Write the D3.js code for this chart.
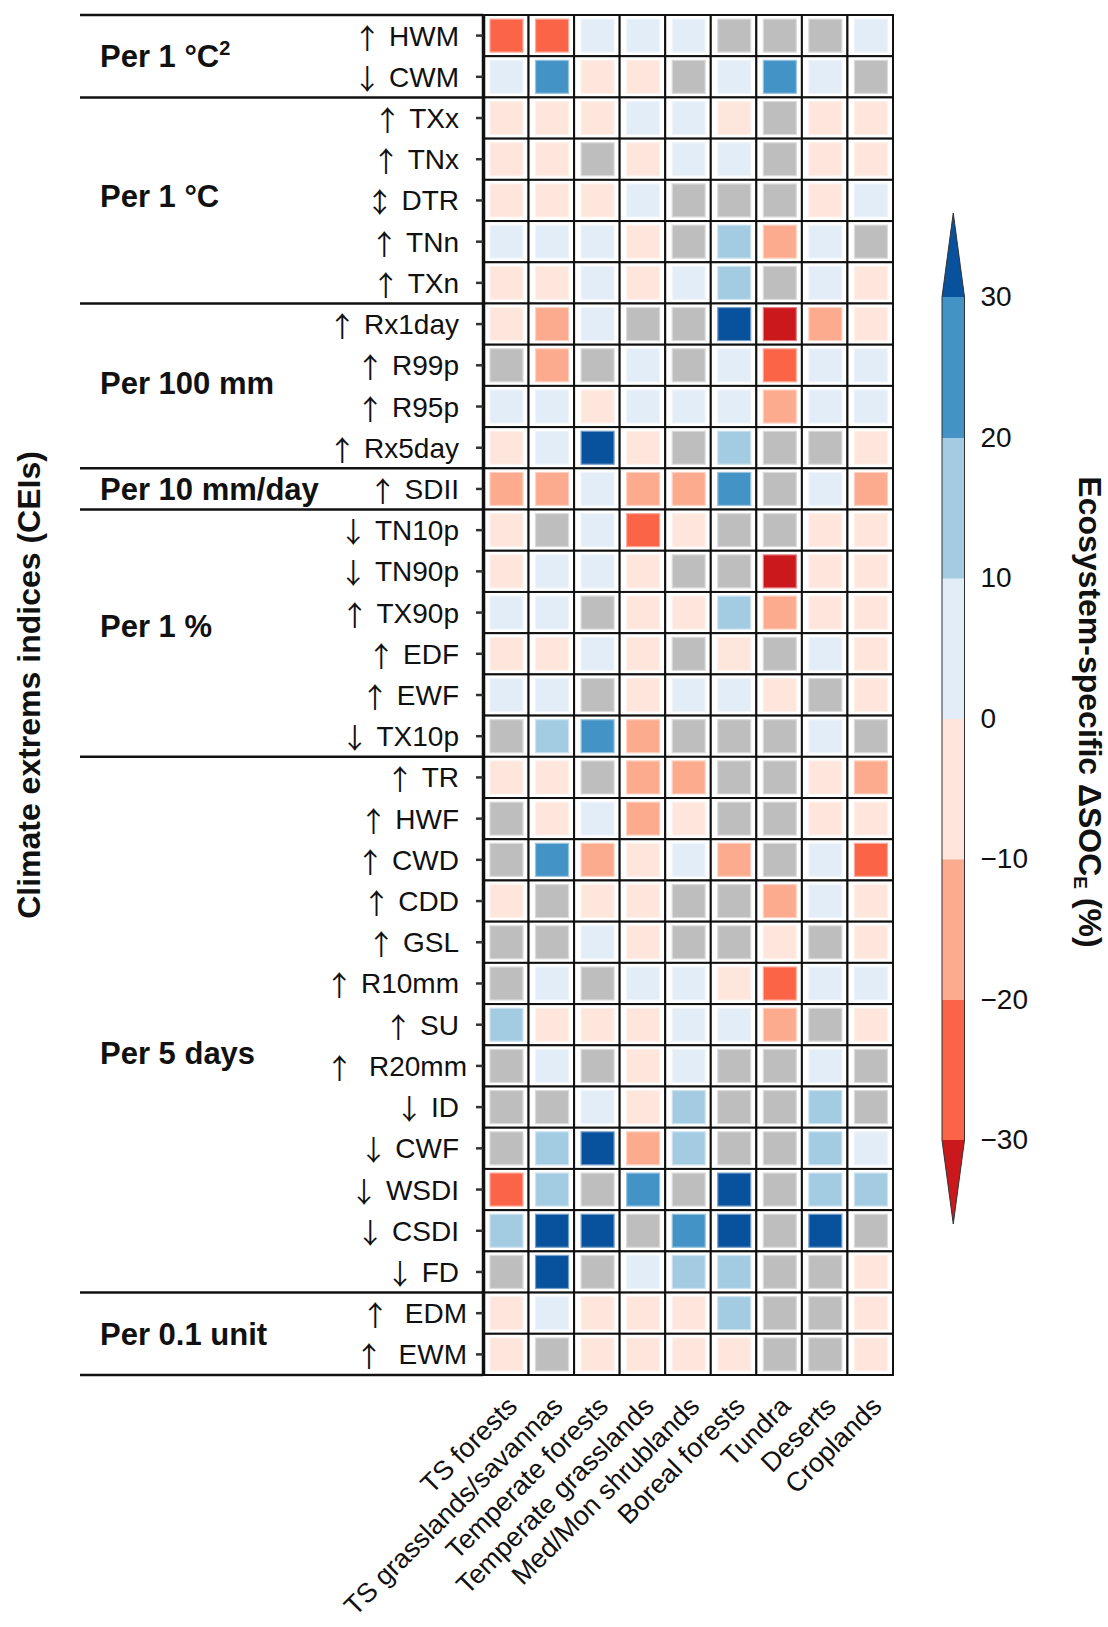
<!DOCTYPE html>
<html>
<head>
<meta charset="utf-8">
<script src="https://cdn.jsdelivr.net/npm/d3@7"></script>
<style>
  html, body { margin: 0; padding: 0; background: #fff; }
  svg { display: block; font-family: "Liberation Sans", Arial, Helvetica, sans-serif; }
</style>
</head>
<body>
<svg id="chart" width="1108" height="1627"></svg>
<script>
// ---------------- DATA ----------------
const ecosystems = ["TS forests", "TS grasslands/savannas", "Temperate forests", "Temperate grasslands",
  "Med/Mon shrublands", "Boreal forests", "Tundra", "Deserts", "Croplands"];

const indices = ["↑ HWM", "↓ CWM", "↑ TXx", "↑ TNx", "↕ DTR", "↑ TNn", "↑ TXn",
  "↑ Rx1day", "↑ R99p", "↑ R95p", "↑ Rx5day", "↑ SDII",
  "↓ TN10p", "↓ TN90p", "↑ TX90p", "↑ EDF", "↑ EWF", "↓ TX10p",
  "↑ TR", "↑ HWF", "↑ CWD", "↑ CDD", "↑ GSL", "↑ R10mm", "↑ SU", "↑  R20mm",
  "↓ ID", "↓ CWF", "↓ WSDI", "↓ CSDI", "↓ FD", "↑  EDM", "↑  EWM"];

// unit groups: label, first index row, last index row
const groupLabels = ["Per 1 °C", "Per 1 °C", "Per 100 mm", "Per 10 mm/day", "Per 1 %", "Per 5 days", "Per 0.1 unit"];
const groupStart = [0, 2, 7, 11, 12, 18, 31];
const groupEnd   = [1, 6, 10, 11, 17, 30, 32];

// Ecosystem-specific ΔSOC_E (%) per index (null = not shown / grey)
const tsForests    = [-25, 5, -5, -5, -5, 5, -5, -5, null, 5, -5, -15, -5, -5, 5, -5, 5, null, -5, null, null, -5, null, null, 15, null, null, null, -25, 15, null, -5, -5];
const tsGrasslands = [-25, 25, -5, -5, -5, 5, -5, -15, -15, 5, 5, -15, null, 5, 5, -5, 5, 15, -5, -5, 25, null, null, 5, -5, 5, null, 15, 15, 35, 35, 5, null];
const tempForests  = [5, -5, -5, null, -5, 5, 5, 5, null, -5, 35, 5, 5, 5, null, 5, null, 25, null, 5, -15, -5, 5, null, -5, null, 5, 35, null, 35, null, -5, -5];
const tempGrass    = [5, -5, 5, -5, 5, -5, -5, null, 5, 5, -5, -15, -25, -5, -5, -5, -5, -15, -15, -15, -5, -5, -5, 5, -5, -5, -5, -15, 25, null, 5, -5, -5];
const medShrub     = [5, null, 5, 5, null, null, 5, null, null, 5, null, -15, -5, null, -5, null, 5, null, -15, -5, 5, null, null, 5, 5, 5, 15, 15, null, 25, 15, -5, -5];
const borealFor    = [null, 5, -5, 5, null, 15, 15, 35, 5, 5, 15, 25, null, null, 15, -5, 5, null, null, null, -15, null, null, -5, 5, null, null, null, 35, 35, 15, 15, -5];
const tundra       = [null, 25, null, null, null, -15, null, -35, -25, -15, null, null, null, -35, -15, null, -5, null, null, null, null, -15, -5, -25, -15, null, null, null, null, null, null, null, null];
const deserts      = [null, 5, -5, -5, -5, 5, 5, -15, 5, 5, null, 5, -5, -5, -5, 5, null, 5, -5, -5, 5, 5, null, 5, null, 5, 15, 15, 15, 35, null, null, null];
const croplands    = [5, null, -5, -5, 5, null, -5, -5, 5, 5, -5, -15, -5, -5, -5, -5, -5, null, -15, -5, -25, -5, -5, 5, -5, null, null, 5, 15, null, -5, -5, -5];

const seriesByEcosystem = [tsForests, tsGrasslands, tempForests, tempGrass, medShrub, borealFor, tundra, deserts, croplands];

// colour bins
const binBreaks = [-30, -20, -10, 0, 10, 20, 30];
const binColors = ["#cb181d", "#fb6447", "#fcab8e", "#fee6dc", "#e3edf8", "#a3cce3", "#4493c7", "#08519c"];
const colorbarTicks = [-30, -20, -10, 0, 10, 20, 30];

// ---------------- LAYOUT ----------------
const L = { left: 483, right: 893, top: 15, bottom: 1375, sepLeft: 80, groupX: 100,
            cbX: 942, cbW: 22.5, cbTop: 297, cbBottom: 1140, cbTip: 84 };

const svg = d3.select("#chart");
const x = d3.scaleBand().domain(ecosystems).range([L.left, L.right]).padding(0);
const y = d3.scaleBand().domain(indices).range([L.top, L.bottom]).padding(0);
const color = d3.scaleThreshold().domain(binBreaks).range(binColors);
const grey = "#bebebe";

const cells = [];
ecosystems.forEach((e, ci) => indices.forEach((r, ri) => cells.push({ e, r, v: seriesByEcosystem[ci][ri] })));

// grid cells
svg.append("g").selectAll("rect").data(cells).join("rect")
  .attr("x", d => x(d.e)).attr("y", d => y(d.r))
  .attr("width", x.bandwidth()).attr("height", y.bandwidth())
  .attr("fill", "#fff").attr("stroke", "#111").attr("stroke-width", 2);

// inner squares
const sq = 33;
svg.append("g").selectAll("rect").data(cells).join("rect")
  .attr("x", d => x(d.e) + x.bandwidth() / 2 - sq / 2 + 0.7)
  .attr("y", d => y(d.r) + y.bandwidth() / 2 - sq / 2)
  .attr("width", sq).attr("height", sq)
  .attr("fill", d => d.v == null ? grey : color(d.v))
  .attr("stroke", d => d3.interpolateRgb(d.v == null ? grey : color(d.v), "#fff")(0.45))
  .attr("stroke-width", 1.2);

// y axis
const yAxis = svg.append("g").attr("transform", `translate(${L.left},0)`)
  .call(d3.axisLeft(y).tickSize(7).tickPadding(17).tickSizeOuter(0));
yAxis.select(".domain").attr("stroke", "#111").attr("stroke-width", 3.5);
yAxis.selectAll(".tick line").attr("stroke", "#333").attr("stroke-width", 2.5);
yAxis.selectAll(".tick text").each(function(d) {
  const t = d3.select(this);
  const arrow = d.charAt(0);
  const wide = d.indexOf("  ") > 0;
  const rest = d.slice(1).trim();
  t.text(null).attr("font-size", 28).attr("fill", "#111").attr("dy", null).attr("y", 10)
    .attr("font-family", "'Liberation Sans', Arial, sans-serif")
    .attr("x", wide ? -16 : -24);
  t.append("tspan").text(arrow).attr("font-family", "'Noto Sans CJK SC', 'DejaVu Sans', sans-serif")
    .attr("font-size", 28).attr("dy", 3);
  t.append("tspan").text(wide ? "\u00a0\u00a0" + rest : "\u00a0" + rest).attr("dy", -3);
});

// group separators
const sepYs = [L.top].concat(groupEnd.map(i => y(indices[i]) + y.bandwidth()));
svg.append("g").selectAll("line").data(sepYs).join("line")
  .attr("x1", L.sepLeft).attr("x2", L.left).attr("y1", d => d).attr("y2", d => d)
  .attr("stroke", "#111").attr("stroke-width", 2.5);

// group labels
const groupCenter = (i) => (y(indices[groupStart[i]]) + y(indices[groupEnd[i]]) + y.bandwidth()) / 2;
const labelShift = [0, -4, -3, 0, -7, 28, 0];
const gl = svg.append("g").selectAll("text").data(groupLabels).join("text")
  .attr("x", L.groupX).attr("y", (d, i) => groupCenter(i) + labelShift[i] + 11)
  .attr("font-size", 31).attr("font-weight", "bold").attr("fill", "#111");
gl.each(function(d, i) {
  const t = d3.select(this);
  t.append("tspan").text(d);
  if (i === 0) t.append("tspan").text("2").attr("font-size", 20).attr("dy", -12);
});

// x axis labels
const xAxis = svg.append("g").attr("transform", `translate(0,${L.bottom})`)
  .call(d3.axisBottom(x).tickSize(0));
xAxis.select(".domain").remove();
xAxis.selectAll(".tick text")
  .attr("x", 0).attr("y", 0).attr("dy", 0)
  .attr("transform", "translate(13,33) rotate(-45)")
  .attr("text-anchor", "end").attr("font-size", 27).attr("fill", "#111")
  .attr("font-family", "'Liberation Sans', Arial, sans-serif");

// y title
svg.append("text").attr("transform", `translate(40,685) rotate(-90)`)
  .attr("text-anchor", "middle").attr("font-size", 32).attr("font-weight", "bold").attr("fill", "#111")
  .text("Climate extrems indices (CEIs)");

// ---------------- COLORBAR ----------------
const cy = d3.scaleLinear().domain([-30, 30]).range([L.cbBottom, L.cbTop]);
const cb = svg.append("g");
const segs = d3.range(binBreaks.length - 1).map(i => ({ lo: binBreaks[i], hi: binBreaks[i + 1] }));
cb.selectAll("rect").data(segs).join("rect")
  .attr("x", L.cbX).attr("width", L.cbW)
  .attr("y", d => cy(d.hi)).attr("height", d => cy(d.lo) - cy(d.hi) + 0.5)
  .attr("fill", d => color((d.lo + d.hi) / 2));
const cx0 = L.cbX, cx1 = L.cbX + L.cbW, cxm = L.cbX + L.cbW / 2;
cb.append("path")
  .attr("d", `M${cx0},${cy(30)}L${cxm},${cy(30) - L.cbTip}L${cx1},${cy(30)}Z`)
  .attr("fill", binColors[binColors.length - 1]);
cb.append("path")
  .attr("d", `M${cx0},${cy(-30)}L${cxm},${cy(-30) + L.cbTip}L${cx1},${cy(-30)}Z`)
  .attr("fill", binColors[0]);
cb.append("path")
  .attr("d", `M${cx0},${cy(30)}L${cxm},${cy(30) - L.cbTip}L${cx1},${cy(30)}L${cx1},${cy(-30)}L${cxm},${cy(-30) + L.cbTip}L${cx0},${cy(-30)}Z`)
  .attr("fill", "none").attr("stroke", "#333").attr("stroke-width", 1);

const cbAxis = svg.append("g").attr("transform", `translate(${cx1},0)`)
  .call(d3.axisRight(cy).tickValues(colorbarTicks).tickSize(0).tickPadding(16)
    .tickFormat(d => d < 0 ? "\u2212" + Math.abs(d) : String(d)));
cbAxis.select(".domain").remove();
cbAxis.selectAll(".tick text").attr("font-size", 28).attr("fill", "#111")
  .attr("font-family", "'Liberation Sans', Arial, sans-serif");

const ct = svg.append("text").attr("transform", `translate(1079,712) rotate(90)`)
  .attr("text-anchor", "middle").attr("font-size", 32).attr("font-weight", "bold").attr("fill", "#111");
ct.append("tspan").text("Ecosystem-specific ΔSOC");
ct.append("tspan").text("E").attr("font-size", 19).attr("dy", 5);
ct.append("tspan").text(" (%)").attr("dy", -5);
</script>
</body>
</html>
